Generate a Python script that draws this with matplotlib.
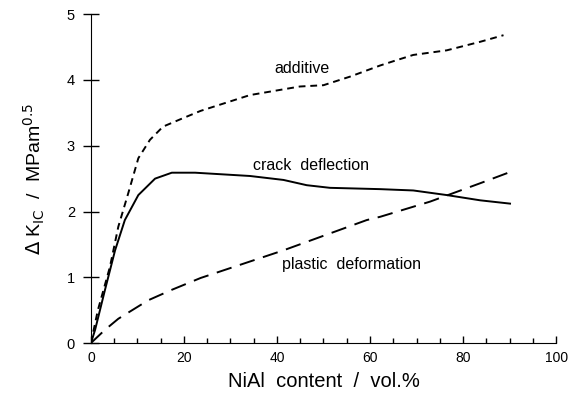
import numpy as np
import matplotlib
matplotlib.use("Agg")
from matplotlib import pyplot as plt

plt.rcParams['font.family'] = ['Liberation Sans', 'DejaVu Sans']

# additive (short dashes)
add_x = [0, 1.5, 4.1, 5.9, 8.0, 10.2, 12.7, 15.5, 19.5, 23.6, 34.2, 44.9, 50, 55.7,
         62.2, 65.7, 69.3, 76.5, 83.7, 88.7]
add_y = [0, 0.5, 1.16, 1.77, 2.27, 2.81, 3.09, 3.29, 3.41, 3.53, 3.77, 3.9, 3.92, 4.05,
         4.22, 4.3, 4.38, 4.45, 4.58, 4.68]

# crack deflection (solid)
crack_x = [0, 0.9, 3.0, 5.2, 7.3, 10.2, 13.8, 17.4, 22.4, 34.2, 41.4, 46.4, 51.4,
           62.2, 65.7, 69.3, 76.5, 83.7, 90.1]
crack_y = [0, 0.2, 0.8, 1.41, 1.87, 2.25, 2.5, 2.59, 2.59, 2.54, 2.48, 2.4, 2.36,
           2.34, 2.33, 2.32, 2.25, 2.17, 2.12]

# plastic deformation (long dashes)
plast_x = [0, 3.0, 5.9, 12.3, 17.4, 23.6, 41.4, 59.3, 62.2, 72.9, 83.7, 90.1]
plast_y = [0, 0.2, 0.37, 0.65, 0.81, 0.99, 1.41, 1.87, 1.92, 2.15, 2.43, 2.6]

fig = plt.figure(figsize=(5.68, 3.93), dpi=100)
ax = fig.add_axes([0.160, 0.127, 0.819, 0.837])

ax.plot(add_x, add_y, color='black', lw=1.4, dashes=(3.5, 2.5))
ax.plot(crack_x, crack_y, color='black', lw=1.4)
ax.plot(plast_x, plast_y, color='black', lw=1.4, dashes=(8, 4.5))

ax.text(45.3, 4.17, 'additive', fontsize=11.5, ha='center', va='center')
ax.text(47.3, 2.7, 'crack  deflection', fontsize=11.5, ha='center', va='center')
ax.text(56, 1.2, 'plastic  deformation', fontsize=11.5, ha='center', va='center')

ax.set_xlim(0, 100)
ax.set_ylim(0, 5)
ax.spines['top'].set_visible(False)
ax.spines['right'].set_visible(False)
ax.spines['bottom'].set_bounds(0, 100)
ax.spines['left'].set_bounds(0, 5)
ax.set_xticks([0, 20, 40, 60, 80, 100])
ax.set_xticks(np.arange(0, 101, 5), minor=True)
ax.set_yticks([0, 1, 2, 3, 4, 5])
ax.tick_params(axis='x', which='major', direction='in', length=5, width=1, labelsize=10, pad=6)
ax.tick_params(axis='x', which='minor', direction='in', length=3.5, width=1)
ax.tick_params(axis='y', direction='inout', length=11, width=1, labelsize=10.5, pad=6)

ax.set_xlabel('NiAl  content  /  vol.%', fontsize=14.5, labelpad=5)
ax.set_ylabel(r'$\Delta$ K$_{\rm IC}$  /  MPam$^{0.5}$', fontsize=14, labelpad=14)

fig.savefig('out.png', dpi=100)
